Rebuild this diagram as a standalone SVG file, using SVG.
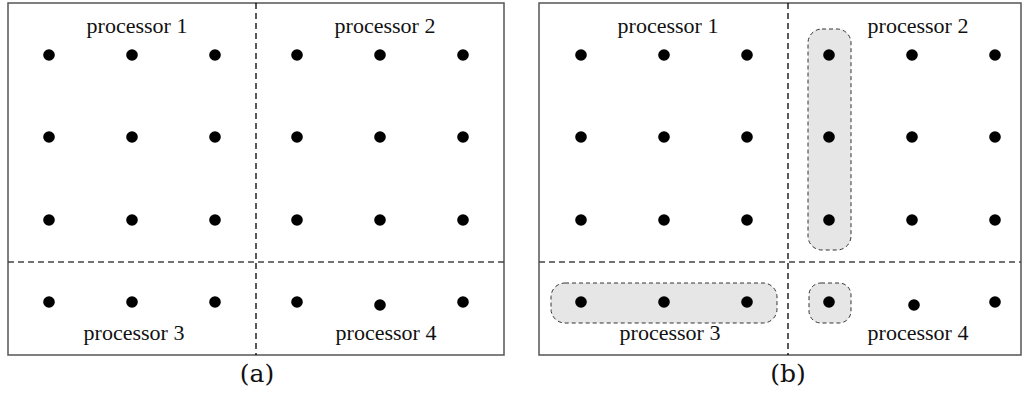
<svg xmlns="http://www.w3.org/2000/svg" width="1026" height="394" viewBox="0 0 1026 394">
<style>
.frame{fill:none;stroke:#555;stroke-width:1.5}
.dv{stroke:#000;stroke-width:1.3;stroke-dasharray:6,4}
.dh{stroke:#444;stroke-width:1.3;stroke-dasharray:6,4}
.grp{fill:#e6e6e6;stroke:#333;stroke-width:1;stroke-dasharray:4,3}
.dot{fill:#000}
.lbl{font-family:"Liberation Serif",serif;font-size:22px;text-anchor:middle;fill:#111}
.cap{font-family:"DejaVu Serif","Liberation Serif",serif;font-size:25px;text-anchor:middle;fill:#111}
</style>
<rect width="1026" height="394" fill="#fff"/>
<g id="panel-a">
<rect class="frame" x="8" y="3" width="496" height="352"/>
<line class="dv" x1="256" y1="3" x2="256" y2="355"/>
<line class="dh" x1="8" y1="262" x2="504" y2="262"/>
<g class="dot">
<circle cx="49" cy="55" r="5.8"/><circle cx="132" cy="55" r="5.8"/><circle cx="215" cy="55" r="5.8"/>
<circle cx="49" cy="137" r="5.8"/><circle cx="132" cy="137" r="5.8"/><circle cx="215" cy="137" r="5.8"/>
<circle cx="49" cy="220" r="5.8"/><circle cx="132" cy="220" r="5.8"/><circle cx="215" cy="220" r="5.8"/>
<circle cx="49" cy="302" r="5.8"/><circle cx="132" cy="302" r="5.8"/><circle cx="215" cy="302" r="5.8"/>
<circle cx="297" cy="55" r="5.8"/><circle cx="380" cy="55" r="5.8"/><circle cx="463" cy="55" r="5.8"/>
<circle cx="297" cy="137" r="5.8"/><circle cx="380" cy="137" r="5.8"/><circle cx="463" cy="137" r="5.8"/>
<circle cx="297" cy="220" r="5.8"/><circle cx="380" cy="220" r="5.8"/><circle cx="463" cy="220" r="5.8"/>
<circle cx="297" cy="302" r="5.8"/><circle cx="380" cy="305" r="5.8"/><circle cx="463" cy="302" r="5.8"/>
</g>
<text class="lbl" x="137" y="33">processor 1</text>
<text class="lbl" x="385" y="33">processor 2</text>
<text class="lbl" x="134" y="340">processor 3</text>
<text class="lbl" x="386" y="340">processor 4</text>
<text class="cap" x="257" y="382">(a)</text>
</g>
<g id="panel-b">
<rect class="frame" x="539" y="3" width="482" height="352"/>
<line class="dv" x1="788" y1="3" x2="788" y2="355"/>
<line class="dh" x1="539" y1="262" x2="1021" y2="262"/>
<rect class="grp" x="808" y="29" width="43" height="221" rx="14"/>
<rect class="grp" x="551" y="283" width="226" height="40" rx="14"/>
<rect class="grp" x="809" y="283" width="42" height="40" rx="12"/>
<g class="dot">
<circle cx="581" cy="55" r="5.8"/><circle cx="664" cy="55" r="5.8"/><circle cx="747" cy="55" r="5.8"/>
<circle cx="581" cy="137" r="5.8"/><circle cx="664" cy="137" r="5.8"/><circle cx="747" cy="137" r="5.8"/>
<circle cx="581" cy="220" r="5.8"/><circle cx="664" cy="220" r="5.8"/><circle cx="747" cy="220" r="5.8"/>
<circle cx="581" cy="302" r="5.8"/><circle cx="664" cy="302" r="5.8"/><circle cx="747" cy="302" r="5.8"/>
<circle cx="829" cy="55" r="5.8"/><circle cx="912" cy="55" r="5.8"/><circle cx="995" cy="55" r="5.8"/>
<circle cx="829" cy="137" r="5.8"/><circle cx="912" cy="137" r="5.8"/><circle cx="995" cy="137" r="5.8"/>
<circle cx="829" cy="220" r="5.8"/><circle cx="912" cy="220" r="5.8"/><circle cx="995" cy="220" r="5.8"/>
<circle cx="829" cy="302" r="5.8"/><circle cx="914" cy="305" r="5.8"/><circle cx="995" cy="302" r="5.8"/>
</g>
<text class="lbl" x="668" y="33">processor 1</text>
<text class="lbl" x="918" y="33">processor 2</text>
<text class="lbl" x="670" y="340">processor 3</text>
<text class="lbl" x="918" y="340">processor 4</text>
<text class="cap" x="788" y="382">(b)</text>
</g>
</svg>
